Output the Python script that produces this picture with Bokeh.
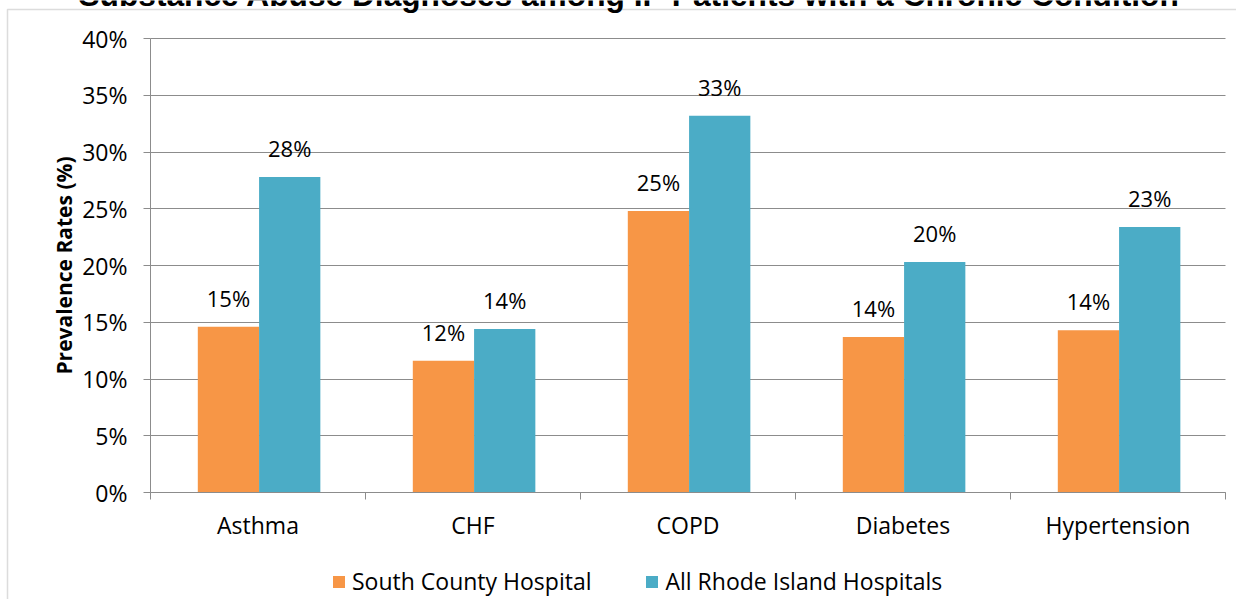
from bokeh.plotting import figure
from bokeh.models import (ColumnDataSource, FixedTicker, Legend, LegendItem, Label,
                          CustomJSTickFormatter, BoxAnnotation)
from bokeh.embed import file_html
from bokeh.resources import INLINE

# ---- data ----
categories = ["Asthma", "CHF", "COPD", "Diabetes", "Hypertension"]
south_county = [14.6, 11.6, 24.8, 13.7, 14.3]
all_ri = [27.8, 14.4, 33.2, 20.3, 23.4]
series_names = ["South County Hospital", "All Rhode Island Hospitals"]
y_ticks = [0, 5, 10, 15, 20, 25, 30, 35, 40]
title_text = "Substance Abuse Diagnoses among IP Patients with a Chronic Condition"
y_title = "Prevalence Rates (%)"

ORANGE = "#F79646"
BLUE = "#4BACC6"
GRID = "#8C8C8C"
FONT = "Open Sans"

# ---- layout (pixels) ----
W, H = 1236, 599
PL, PR, PT, PB = 150, 1225, 38, 492          # plot area in pixels
n = len(categories)
ymax = y_ticks[-1]
sx = (PR - PL) / n                           # px per category
sy = (PB - PT) / ymax                        # px per percent
x_lo, x_hi = -PL / sx, (W - PL) / sx
y_lo, y_hi = -(H - PB) / sy, ymax + PT / sy


def px_x(px):
    return x_lo + px / sx


def px_y(py):
    return y_hi - py / sy


bar_w = 0.285
centers = [i + 0.5 for i in range(n)]
dodge = 0.005

src_sc = ColumnDataSource(dict(
    x=[c - bar_w / 2 + dodge for c in centers], top=south_county,
    lab=["%d%%" % int(v + 0.5) for v in south_county]))
src_ri = ColumnDataSource(dict(
    x=[c + bar_w / 2 + dodge for c in centers], top=all_ri,
    lab=["%d%%" % int(v + 0.5) for v in all_ri]))

p = figure(frame_width=W, frame_height=H,
           x_range=(x_lo, x_hi), y_range=(y_lo, y_hi),
           output_backend="svg", toolbar_location=None,
           min_border=0)
p.title.visible = False
p.outline_line_color = None
p.background_fill_color = "white"
p.border_fill_color = "white"

# grid (only across the plot area)
p.xgrid.visible = False
p.ygrid.ticker = FixedTicker(ticks=y_ticks)
p.ygrid.grid_line_color = GRID
p.ygrid.grid_line_width = 1
p.ygrid.bounds = (0, ymax)
p.ygrid.cross_bounds = (0, n)

r_sc = p.vbar(x="x", top="top", width=bar_w, bottom=0, source=src_sc,
              fill_color=ORANGE, line_color=None)
r_ri = p.vbar(x="x", top="top", width=bar_w, bottom=0, source=src_ri,
              fill_color=BLUE, line_color=None)

for src in (src_sc, src_ri):
    p.text(x="x", y="top", text="lab", source=src, text_align="center",
           text_baseline="alphabetic", y_offset=-29,
           text_font={"value": FONT}, text_font_size={"value": "22px"},
           text_color="black")

# y axis
ya = p.yaxis[0]
ya.fixed_location = 0
ya.bounds = (0, ymax)
ya.ticker = FixedTicker(ticks=y_ticks)
ya.major_label_overrides = {t: "%d%%" % t for t in y_ticks}
ya.major_tick_out = 7
ya.major_tick_in = 0
ya.minor_tick_out = 0
ya.minor_tick_in = 0
ya.major_label_standoff = 16
ya.axis_line_color = GRID
ya.major_tick_line_color = GRID
ya.major_label_text_font = FONT
ya.major_label_text_font_size = "23px"
ya.major_label_text_color = "black"
ya.axis_label = y_title
ya.axis_label_text_font = FONT
ya.axis_label_text_font_style = "bold"
ya.axis_label_text_font_size = "21px"
ya.axis_label_text_color = "black"
ya.axis_label_standoff = 1

# x axis
xa = p.xaxis[0]
xa.fixed_location = 0
xa.bounds = (0, n)
xa.ticker = FixedTicker(ticks=centers, minor_ticks=list(range(n + 1)))
xa.formatter = CustomJSTickFormatter(args=dict(names=categories),
                                     code="return names[Math.floor(tick)] || '';")
xa.major_tick_out = 0
xa.major_tick_in = 0
xa.minor_tick_out = 7
xa.minor_tick_in = 0
xa.minor_tick_line_color = GRID
xa.axis_line_color = GRID
xa.major_label_standoff = 9
xa.major_label_text_font = FONT
xa.major_label_text_font_size = "23px"
xa.major_label_text_color = "black"

# legend
legend = Legend(items=[LegendItem(label=series_names[0], renderers=[r_sc]),
                       LegendItem(label=series_names[1], renderers=[r_ri])],
                orientation="horizontal", location=(331, 2),
                glyph_width=15, glyph_height=15, label_standoff=6, spacing=53,
                padding=0, margin=0, border_line_color=None,
                background_fill_alpha=0,
                label_text_font=FONT, label_text_font_size="23px",
                label_text_color="black")
p.add_layout(legend, "center")

# chart border (top-left corner visible in the source image)
p.add_layout(BoxAnnotation(left=px_x(7), right=px_x(W + 200), top=px_y(9),
                           bottom=px_y(H + 200), fill_alpha=0,
                           line_color=GRID, line_width=1.5))

# title (mostly above the visible area, as in the source image)
p.add_layout(Label(x=px_x(629), y=px_y(-6), text=title_text, text_align="center",
                   text_baseline="alphabetic", text_font="Liberation Sans",
                   text_font_style="bold", text_font_size="31.7px",
                   text_color="black"))

open("out.html", "w").write(file_html(p, INLINE))
